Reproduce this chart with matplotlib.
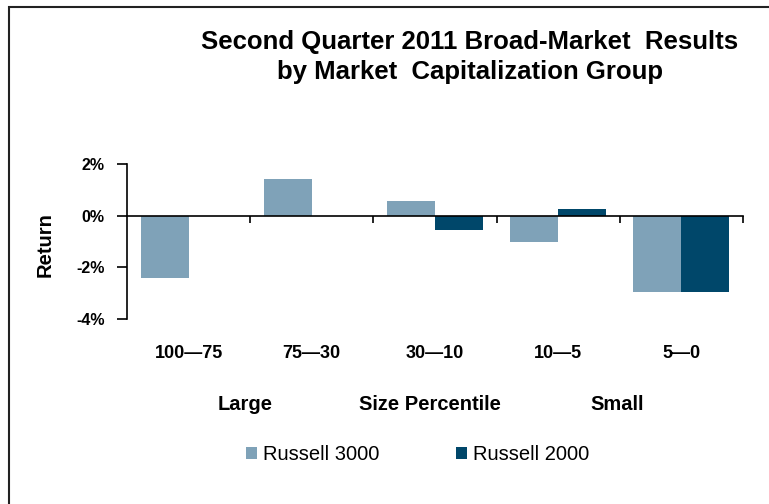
import matplotlib.pyplot as plt
from matplotlib.patches import Rectangle
import numpy as np

# Data (returns in %)
groups = ["100\u201475", "75\u201430", "30\u201410", "10\u20145", "5\u20140"]
russell_3000 = [-2.40, 1.41, 0.57, -1.02, -2.96]
russell_2000 = [0.0, -0.03, -0.57, 0.26, -2.96]
yticks = [2, 0, -2, -4]

light = "#7FA2B8"
dark = "#00476A"
fam = ["Liberation Sans", "DejaVu Sans"]

fig = plt.figure(figsize=(7.69, 5.04), dpi=100)
ax = fig.add_axes([127 / 769, 1 - 319 / 504, (743 - 127) / 769, (319 - 164) / 504])

x = np.arange(len(groups))
w = 0.39
ax.bar(x - w / 2, russell_3000, w, color=light, label="Russell 3000", zorder=2)
ax.bar(x + w / 2, russell_2000, w, color=dark, label="Russell 2000", zorder=2)

ax.set_xlim(-0.5, len(groups) - 0.5)
ax.set_ylim(-4, 2)
ax.spines["top"].set_visible(False)
ax.spines["right"].set_visible(False)
ax.spines["bottom"].set_position(("data", 0))
ax.spines["bottom"].set_zorder(3)
ax.set_xticks(x + 0.5)
ax.set_xticklabels([])
ax.tick_params(axis="x", direction="out", length=5, width=1.2)
ax.set_yticks(yticks)
ax.set_yticklabels([f"{t}%" for t in yticks], family=fam, fontweight="bold", fontsize=11.5)
ax.tick_params(axis="y", direction="out", length=7, width=1.2, pad=9)
for s in ("left", "bottom"):
    ax.spines[s].set_linewidth(1.2)

# category labels under the plot
for xi, g in zip(x, groups):
    fig.text((127 + (xi + 0.5) * 123.2) / 769, 1 - 353 / 504, g, ha="center", va="center",
             family=fam, fontweight="bold", fontsize=13)
for xp, t in [(245, "Large"), (430, "Size Percentile"), (617, "Small")]:
    fig.text(xp / 769, 1 - 405 / 504, t, ha="center", va="center",
             family=fam, fontweight="bold", fontsize=14.5)

fig.text(45 / 769, 1 - 245 / 504, "Return", rotation=90, ha="center", va="center",
         family=fam, fontweight="bold", fontsize=14.5)

fig.text(470 / 769, 1 - 57 / 504, "Second Quarter 2011 Broad-Market  Results\nby Market  Capitalization Group",
         ha="center", va="center", family=fam, fontweight="bold", fontsize=18.5, linespacing=1.3)

fig.legend(loc="center", bbox_to_anchor=(418 / 769, 1 - 455 / 504), ncol=2, frameon=False,
           prop={"family": fam, "size": 14.5}, handlelength=0.55, handleheight=0.55,
           handletextpad=0.3, columnspacing=3.8)

# outer frame, runs off the right and bottom edges
fig.patches.append(Rectangle((9 / 769, -0.1), 1.2, 1 - 7 / 504 + 0.1, transform=fig.transFigure,
                             fill=False, edgecolor="#222222", linewidth=1.5))

fig.savefig("out.png", dpi=100)
